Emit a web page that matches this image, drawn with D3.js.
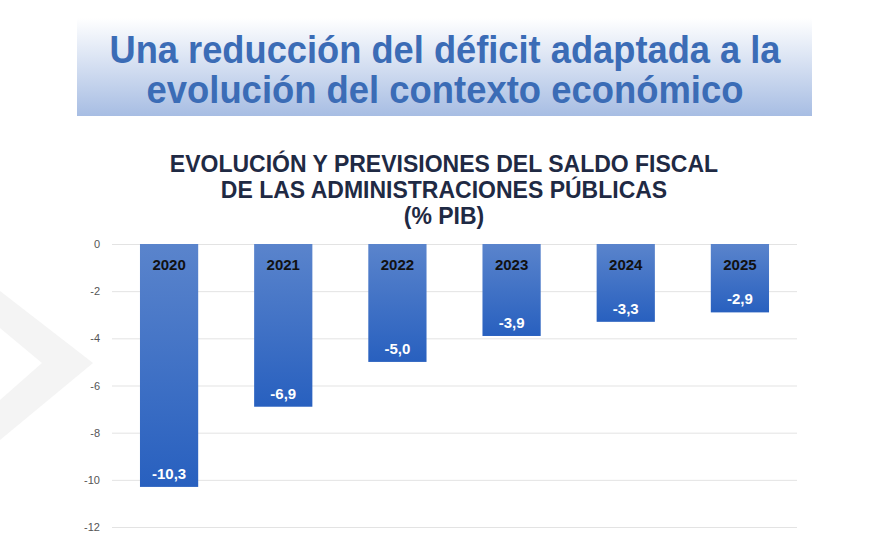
<!DOCTYPE html>
<html><head><meta charset="utf-8">
<script src="https://cdn.jsdelivr.net/npm/d3@7/dist/d3.min.js"></script>
<style>body{margin:0;background:#fff;} svg{display:block;}</style>
</head><body>
<script>
const years = ["2020","2021","2022","2023","2024","2025"];
const values = [-10.3, -6.9, -5.0, -3.9, -3.3, -2.9];
const yTicks = [0, -2, -4, -6, -8, -10, -12];
const headline = ["Una reducción del déficit adaptada a la", "evolución del contexto económico"];
const chartTitle = ["EVOLUCIÓN Y PREVISIONES DEL SALDO FISCAL", "DE LAS ADMINISTRACIONES PÚBLICAS", "(% PIB)"];

const W = 894, H = 553;
const svg = d3.select("body").append("svg").attr("width", W).attr("height", H);
const defs = svg.append("defs");
const hg = defs.append("linearGradient").attr("id","hg").attr("x1",0).attr("y1",0).attr("x2",0).attr("y2",1);
hg.append("stop").attr("offset","0%").attr("stop-color","#ffffff");
hg.append("stop").attr("offset","100%").attr("stop-color","#a7bde3");
const bg = defs.append("linearGradient").attr("id","bg").attr("x1",0).attr("y1",0).attr("x2",0).attr("y2",1);
bg.append("stop").attr("offset","0%").attr("stop-color","#5a84cc");
bg.append("stop").attr("offset","100%").attr("stop-color","#2860bf");

// decorative chevron
svg.append("path").attr("d","M0,291 L93,363 L0,440 L0,400 L42,363 L0,328 Z").attr("fill","#f4f4f4");

// headline box
svg.append("rect").attr("x",77).attr("y",18).attr("width",735).attr("height",98).attr("fill","url(#hg)");
const hlWidths = [671, 597];
svg.append("g").selectAll("text").data(headline).join("text")
  .attr("x", 445).attr("y",(d,i)=>63+i*40).attr("text-anchor","middle")
  .attr("font-family","Liberation Sans, Arial, sans-serif").attr("font-weight","bold")
  .attr("font-size",38).attr("fill","#3b6cb6")
  .attr("textLength",(d,i)=>hlWidths[i]).attr("lengthAdjust","spacingAndGlyphs").text(d=>d);

svg.append("g").selectAll("text").data(chartTitle).join("text")
  .attr("x", 444).attr("y",(d,i)=>172+i*26).attr("text-anchor","middle")
  .attr("font-family","Liberation Sans, Arial, sans-serif").attr("font-weight","bold")
  .attr("font-size",23).attr("fill","#1f2a44").text(d=>d);

const x = d3.scaleBand().domain(years).range([112, 797]).paddingInner(0.49).paddingOuter(0.245);
const y = d3.scaleLinear().domain([-12, 0]).range([527, 244]);

const yAxis = svg.append("g").attr("transform","translate(112,0)")
  .call(d3.axisLeft(y).tickValues(yTicks).tickSize(-685).tickFormat(d3.format("d")));
yAxis.select(".domain").remove();
yAxis.selectAll(".tick line").attr("stroke","#e3e3e3").attr("stroke-width",1);
yAxis.selectAll(".tick text").attr("x",-12).attr("fill","#555").attr("font-size",11)
  .attr("font-family","Liberation Sans, Arial, sans-serif").text(d=>String(d));

const g = svg.append("g");
g.selectAll("rect").data(values).join("rect")
  .attr("x",(d,i)=>x(years[i])).attr("width",x.bandwidth())
  .attr("y",y(0)).attr("height",d=>y(d)-y(0)).attr("fill","url(#bg)");
g.selectAll("text.yr").data(years).join("text").attr("class","yr")
  .attr("x",d=>x(d)+x.bandwidth()/2).attr("y",y(0)+26).attr("text-anchor","middle")
  .attr("font-family","Liberation Sans, Arial, sans-serif").attr("font-weight","bold")
  .attr("font-size",15).attr("fill","#111").text(d=>d);
g.selectAll("text.val").data(values).join("text").attr("class","val")
  .attr("x",(d,i)=>x(years[i])+x.bandwidth()/2).attr("y",d=>y(d)-8).attr("text-anchor","middle")
  .attr("font-family","Liberation Sans, Arial, sans-serif").attr("font-weight","bold")
  .attr("font-size",15).attr("fill","#fff").text(d=>d3.format(".1f")(d).replace("−","-").replace(".",","));
</script>
</body></html>
